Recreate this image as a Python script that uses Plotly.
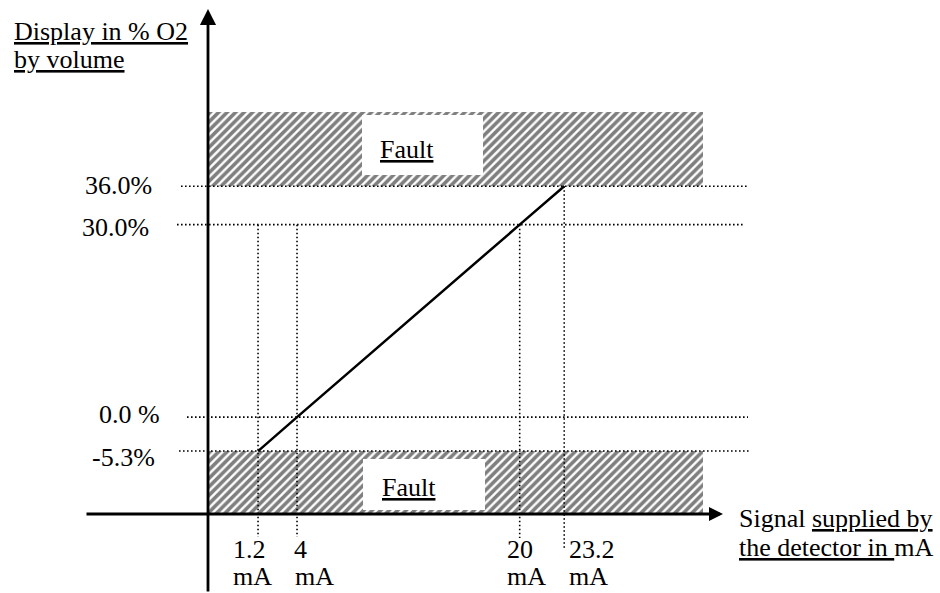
import plotly.graph_objects as go

# ---------------- data ----------------
signal_ma = [1.2, 4.0, 20.0, 23.2]          # detector signal (mA)
display_pct = [-5.3, 0.0, 30.0, 36.0]       # displayed % O2
x_tick_values = [1.2, 4.0, 20.0, 23.2]
x_tick_labels = ["1.2", "4", "20", "23.2"]
x_tick_units = ["mA", "mA", "mA", "mA"]
x_guide_tops = [30.0, 30.0, 30.0, 36.0]     # where each vertical guide starts
y_tick_values = [36.0, 30.0, 0.0, -5.3]
y_tick_labels = ["36.0%", "30.0%", "0.0 %", "-5.3%"]
fault_high = 36.0
fault_low = -5.3
fault_label = "Fault"
y_title_lines = ["<u>Display in % O2</u>", "<u>by volume</u>"]
x_title_lines = ["Signal <u>supplied by</u>", "<u>the detector in&nbsp;</u>mA"]

# ---------------- layout geometry (pixels) ----------------
W, H = 940, 593
X_PX0, X_PX_PER = 241.35, 13.917
Y_PX0, Y_PX_PER = 417.08, 6.414


def px2x(px):
    return (px - X_PX0) / X_PX_PER


def py2y(py):
    return (Y_PX0 - py) / Y_PX_PER


FONT = "Liberation Serif, Times New Roman, serif"
FS = 26
INK = "black"

fig = go.Figure()

# hatched fault regions
hx0, hx1 = px2x(208), px2x(703)
for ylo, yhi in [(fault_high, py2y(112)), (py2y(514), fault_low)]:
    fig.add_trace(go.Scatter(
        x=[hx0, hx1, hx1, hx0, hx0], y=[ylo, ylo, yhi, yhi, ylo],
        mode="lines", fill="toself", line=dict(width=0, color="rgba(0,0,0,0)"),
        fillcolor="white",
        fillpattern=dict(shape="/", size=6, solidity=0.6, fgcolor="#000000", bgcolor="white"),
        hoverinfo="skip", showlegend=False))

# white boxes behind the "Fault" labels
for (bx0, bx1, by0, by1) in [(362, 483, 115, 175), (363, 485, 459, 510)]:
    fig.add_trace(go.Scatter(
        x=[px2x(bx0), px2x(bx1), px2x(bx1), px2x(bx0), px2x(bx0)],
        y=[py2y(by0), py2y(by0), py2y(by1), py2y(by1), py2y(by0)],
        mode="lines", fill="toself", fillcolor="white",
        line=dict(width=0, color="white"), hoverinfo="skip", showlegend=False))

dot = dict(color=INK, width=1.6, dash="1.6px,2.4px")

# horizontal dotted guides
h_starts = [181, 177, 187, 179]
h_ends = [747, 743, 748, 750]
for yv, s, e in zip(y_tick_values, h_starts, h_ends):
    fig.add_trace(go.Scatter(x=[px2x(s), px2x(e)], y=[yv, yv], mode="lines",
                             line=dot, hoverinfo="skip", showlegend=False))

# vertical dotted guides
v_bottoms = [537, 537, 538, 548]
for xv, top, b in zip(x_tick_values, x_guide_tops, v_bottoms):
    fig.add_trace(go.Scatter(x=[xv, xv], y=[top, py2y(b)], mode="lines",
                             line=dot, hoverinfo="skip", showlegend=False))

# characteristic line
fig.add_trace(go.Scatter(x=signal_ma, y=display_pct, mode="lines",
                         line=dict(color=INK, width=2.5), hoverinfo="skip",
                         showlegend=False))

ann = []


def text(px, py, s, anchor="left"):
    ann.append(dict(x=px / W, y=1 - py / H, xref="paper", yref="paper", text=s,
                    showarrow=False, xanchor=anchor, yanchor="middle",
                    font=dict(family=FONT, size=FS, color=INK)))


# axes with arrows
ann.append(dict(x=px2x(208), y=py2y(9), ax=px2x(208), ay=py2y(593),
                xref="x", yref="y", axref="x", ayref="y", text="", showarrow=True,
                arrowhead=2, arrowsize=1.15, arrowwidth=2.8, arrowcolor=INK, standoff=0))
ann.append(dict(x=px2x(723), y=py2y(514), ax=px2x(85), ay=py2y(514),
                xref="x", yref="y", axref="x", ayref="y", text="", showarrow=True,
                arrowhead=2, arrowsize=1.0, arrowwidth=2.8, arrowcolor=INK, standoff=0))

# y tick labels (right aligned)
y_lab_right = [154, 151, 162, 157]
y_lab_cy = [185, 228, 414, 457]
for s, r, cy in zip(y_tick_labels, y_lab_right, y_lab_cy):
    text(r, cy, s, "right")

# x tick labels (two lines)
x_lab_left = [231, 292, 505, 567]
x_lab_left2 = [231, 293, 505, 567]
for s, u, l1, l2 in zip(x_tick_labels, x_tick_units, x_lab_left, x_lab_left2):
    text(l1, 549, s)
    text(l2, 576, u)

# fault labels
text(407, 149, "<u>%s</u>" % fault_label, "center")
text(409, 487, "<u>%s</u>" % fault_label, "center")

# axis titles
text(12, 31.6, y_title_lines[0])
text(12, 59.6, y_title_lines[1])
text(737, 518.6, x_title_lines[0])
text(737, 547.6, x_title_lines[1])

fig.update_layout(
    width=W, height=H, margin=dict(l=0, r=0, t=0, b=0, pad=0),
    paper_bgcolor="white", plot_bgcolor="white", showlegend=False,
    hovermode=False,
    xaxis=dict(range=[px2x(0), px2x(W)], visible=False, fixedrange=True),
    yaxis=dict(range=[py2y(H), py2y(0)], visible=False, fixedrange=True),
    annotations=ann,
)

fig.write_html("out.html", config={"displayModeBar": False},
               post_script="document.body.style.margin='0';document.body.style.overflow='hidden';")
